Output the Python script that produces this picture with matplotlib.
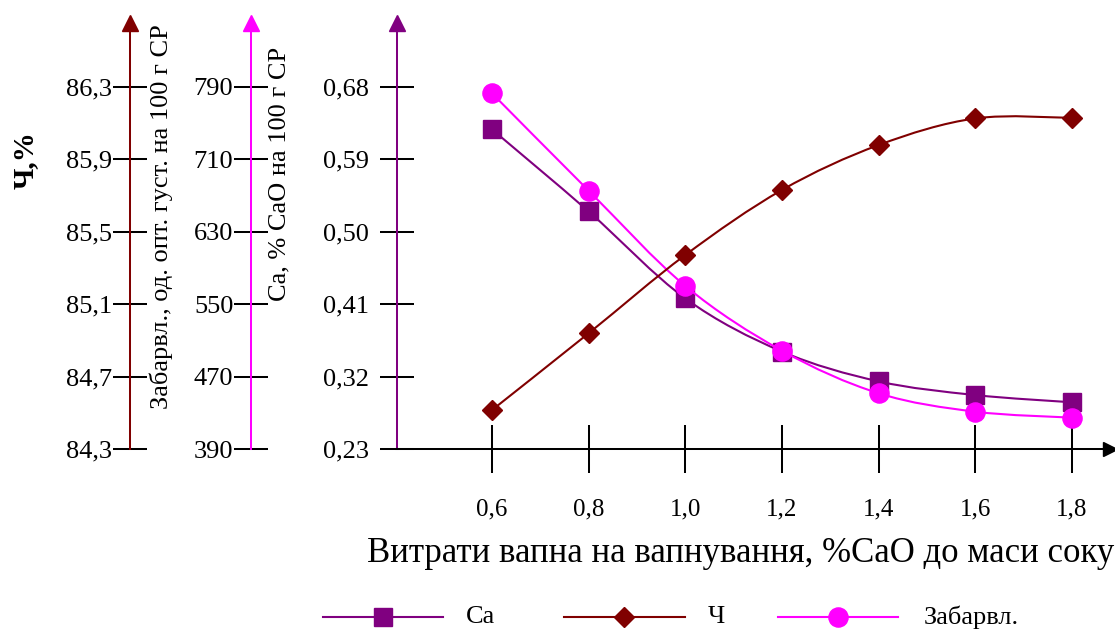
import numpy as np
import matplotlib
matplotlib.use("Agg")
import matplotlib.pyplot as plt
from matplotlib.path import Path
from matplotlib.patches import PathPatch
from matplotlib.lines import Line2D

plt.rcParams['font.family'] = ['Liberation Serif', 'DejaVu Serif']

# ---------------- data ----------------
lime = [0.6, 0.8, 1.0, 1.2, 1.4, 1.6, 1.8]
ca = [0.627, 0.525, 0.417, 0.351, 0.314, 0.297, 0.288]
purity = [84.515, 84.939, 85.371, 85.730, 85.978, 86.125, 86.128]
colour = [782.7, 675.2, 570.0, 498.5, 451.5, 431.2, 424.6]

x_ticks = [0.6, 0.8, 1.0, 1.2, 1.4, 1.6, 1.8]
x_ticklabels = ['0,6', '0,8', '1,0', '1,2', '1,4', '1,6', '1,8']
ca_ticks = [0.23, 0.32, 0.41, 0.50, 0.59, 0.68]
ca_ticklabels = ['0,23', '0,32', '0,41', '0,50', '0,59', '0,68']
col_ticks = [390, 470, 550, 630, 710, 790]
col_ticklabels = ['390', '470', '550', '630', '710', '790']
pur_ticks = [84.3, 84.7, 85.1, 85.5, 85.9, 86.3]
pur_ticklabels = ['84,3', '84,7', '85,1', '85,5', '85,9', '86,3']

xlabel = 'Витрати вапна на вапнування, %CaO до маси соку'
col_label = 'Забарвл., од. опт. густ. на 100 г СР'
ca_label = 'Са, % СаО на 100 г СР'
pur_label = 'Ч,%'
legend_names = ['Са', 'Ч', 'Забарвл.']

C_CA = '#800080'
C_PUR = '#800000'
C_COL = '#FF00FF'

W, H = 1115, 631
fig = plt.figure(figsize=(W / 100, H / 100), dpi=100)


def fx(px):
    return px / W


def fy(py):
    return 1 - py / H


left_px, right_px, top_px, bot_px = 397, 1110, 23, 449
ax = fig.add_axes([fx(left_px), fy(bot_px), fx(right_px) - fx(left_px), fy(top_px) - fy(bot_px)])
ax.set_facecolor('none')

# scales
px_per_x = (1072 - 492) / 1.2
ax.set_xlim(0.6 - (492 - left_px) / px_per_x, 1.8 + (right_px - 1072) / px_per_x)
ca_pp = 0.45 / 362.3
ax.set_ylim(0.23, 0.23 + (bot_px - top_px) * ca_pp)

ax_col = ax.twinx()
ax_col.set_ylim(390, 390 + (bot_px - top_px) * 400 / 362.3)
ax_pur = ax.twinx()
ax_pur.set_ylim(84.3, 84.3 + (bot_px - top_px) * 2.0 / 362.3)

width_px = right_px - left_px
LW = 1.45
TL = 24.5
for a, color, pos in [(ax_col, C_COL, (251 - left_px) / width_px),
                      (ax_pur, C_PUR, (130 - left_px) / width_px)]:
    a.set_facecolor('none')
    for s in ['top', 'right', 'bottom']:
        a.spines[s].set_visible(False)
    a.spines['left'].set_visible(True)
    a.spines['left'].set_position(('axes', pos))
    a.spines['left'].set_color(color)
    a.spines['left'].set_linewidth(LW)
    a.yaxis.set_ticks_position('left')
    a.yaxis.set_label_position('left')
    a.tick_params(axis='y', direction='inout', length=TL, width=LW, color='black',
                  labelsize=19, pad=0.5)
    a.plot([pos], [1.0], marker='^', ms=11.5, color=color, transform=a.transAxes,
           clip_on=False, zorder=5)

ax.spines['top'].set_visible(False)
ax.spines['right'].set_visible(False)
ax.spines['left'].set_color(C_CA)
ax.spines['left'].set_linewidth(LW)
ax.spines['bottom'].set_color('black')
ax.spines['bottom'].set_linewidth(LW)
ax.tick_params(axis='y', direction='inout', length=TL, width=LW, color='black',
               labelsize=19, pad=8)
ax.tick_params(axis='x', direction='inout', length=34.5, width=LW, color='black',
               labelsize=18, pad=18)
ax.plot([0], [1.0], marker='^', ms=11.5, color=C_CA, transform=ax.transAxes,
        clip_on=False, zorder=5)
ax.plot([1.0], [0], marker='>', ms=9.5, color='black', transform=ax.transAxes,
        clip_on=False, zorder=5)

ax.set_xticks(x_ticks)
ax.set_xticklabels(x_ticklabels)
ax.set_yticks(ca_ticks)
ax.set_yticklabels(ca_ticklabels)
ax_col.set_yticks(col_ticks)
ax_col.set_yticklabels(col_ticklabels)
ax_pur.set_yticks(pur_ticks)
ax_pur.set_yticklabels(pur_ticklabels)


def smooth_path(xs, ys):
    P = np.column_stack([xs, ys]).astype(float)
    n = len(P)
    verts = [P[0]]
    codes = [Path.MOVETO]
    for i in range(n - 1):
        p0 = P[i - 1] if i > 0 else P[i]
        p1 = P[i]
        p2 = P[i + 1]
        p3 = P[i + 2] if i + 2 < n else P[i + 1]
        c1 = p1 + (p2 - p0) / 6
        c2 = p2 - (p3 - p1) / 6
        verts += [c1, c2, p2]
        codes += [Path.CURVE4] * 3
    return Path(verts, codes)


series = [(ax, ca, C_CA, 's', 13.0, legend_names[0]),
          (ax_pur, purity, C_PUR, 'D', 10.0, legend_names[1]),
          (ax_col, colour, C_COL, 'o', 13.8, legend_names[2])]
for a, ys, c, m, ms, name in series:
    a.add_patch(PathPatch(smooth_path(lime, ys), facecolor='none', edgecolor=c,
                          lw=1.5, zorder=3, clip_on=False))
    a.plot(lime, ys, linestyle='none', marker=m, ms=ms, color=c, mec=c,
           zorder=4, clip_on=False)

# axis titles
fig.text(fx(741), fy(553), xlabel, ha='center', va='center', fontsize=25)
fig.text(fx(161), fy(217), col_label, ha='center', va='center', rotation=90, fontsize=19)
fig.text(fx(279), fy(174), ca_label, ha='center', va='center', rotation=90, fontsize=19)
fig.text(fx(25), fy(160), pur_label, ha='center', va='center', rotation=90,
         fontsize=21, fontweight='bold')

# legend (manual)
leg_y = 617
leg_items = [(323, 443, 383, 466), (564, 685, 624, 708), (778, 898, 838, 924)]
for (x0, x1, xm, xt), (_, _, c, m, ms, name) in zip(leg_items, series):
    fig.add_artist(Line2D([fx(x0), fx(x1)], [fy(leg_y), fy(leg_y)], color=c, lw=1.5,
                          transform=fig.transFigure))
    fig.add_artist(Line2D([fx(xm)], [fy(leg_y)], marker=m, ms=ms, color=c, mec=c,
                          linestyle='none', transform=fig.transFigure))
    fig.text(fx(xt), fy(leg_y), name, ha='left', va='center', fontsize=19)

fig.savefig('out.png', dpi=100)
